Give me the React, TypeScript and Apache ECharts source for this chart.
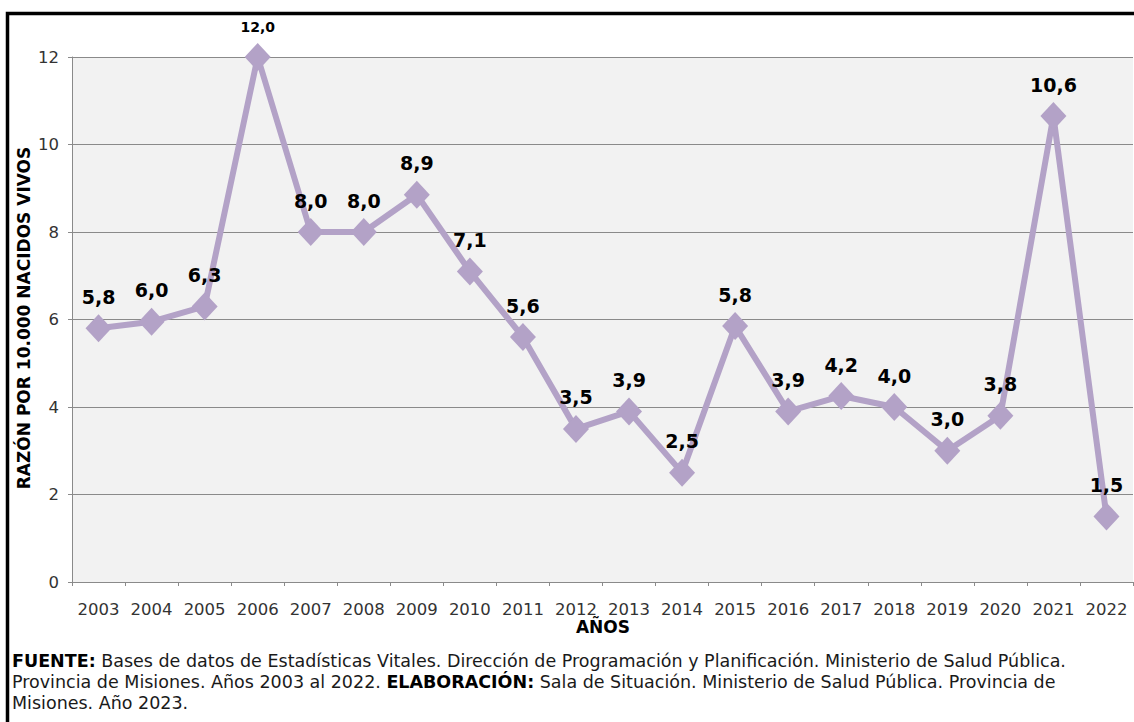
import React, { useEffect, useRef } from "react";
import * as echarts from "echarts";

const years = ["2003","2004","2005","2006","2007","2008","2009","2010","2011","2012","2013","2014","2015","2016","2017","2018","2019","2020","2021","2022"];
const rates = [5.8, 5.95, 6.3, 12.0, 8.0, 8.0, 8.85, 7.1, 5.6, 3.5, 3.9, 2.5, 5.85, 3.9, 4.25, 4.0, 3.0, 3.8, 10.65, 1.5];
const rateLabels = ["5,8","6,0","6,3","12,0","8,0","8,0","8,9","7,1","5,6","3,5","3,9","2,5","5,8","3,9","4,2","4,0","3,0","3,8","10,6","1,5"];
const yTitle = "RAZÓN POR 10.000 NACIDOS VIVOS";
const xTitle = "AÑOS";
const footerLines = [
  "{b|FUENTE:} Bases de datos de Estadísticas Vitales. Dirección de Programación y Planificación. Ministerio de Salud Pública.",
  "Provincia de Misiones. Años 2003 al 2022. {b|ELABORACIÓN:} Sala de Situación. Ministerio de Salud Pública. Provincia de",
  "Misiones. Año 2023.",
];

const FONT = "DejaVu Sans";

export default function App() {
  const ref = useRef<HTMLDivElement>(null);
  useEffect(() => {
    if (!ref.current) return;
    const chart = echarts.init(ref.current, undefined, { renderer: "svg" });
    const footerY = [661, 682, 703];
    chart.setOption({
      animation: false,
      backgroundColor: "#ffffff",
      grid: {
        left: 72,
        right: 1,
        top: 57,
        bottom: 140,
        show: true,
        backgroundColor: "#F2F2F2",
        borderWidth: 0,
      },
      xAxis: {
        type: "category",
        data: years,
        boundaryGap: true,
        axisLine: { show: true, lineStyle: { color: "#8a8a8a", width: 1 } },
        axisTick: { show: true, length: 4, lineStyle: { color: "#8a8a8a" } },
        axisLabel: { color: "#333333", fontSize: 16.5, fontFamily: FONT, margin: 19, interval: 0 },
        splitLine: { show: false },
      },
      yAxis: {
        type: "value",
        min: 0,
        max: 12,
        interval: 2,
        axisLine: { show: true, lineStyle: { color: "#8a8a8a", width: 1 } },
        axisTick: { show: true, length: 4, lineStyle: { color: "#8a8a8a" } },
        axisLabel: { color: "#333333", fontSize: 16.5, fontFamily: FONT, margin: 13 },
        splitLine: { show: true, lineStyle: { color: "#8a8a8a", width: 1 } },
      },
      series: [
        {
          type: "line",
          data: rates.map((v, i) =>
            i === 3
              ? { value: v, label: { fontSize: 14, distance: 9 } }
              : { value: v }
          ),
          lineStyle: { color: "#B3A2C7", width: 6 },
          itemStyle: { color: "#B3A2C7" },
          symbol: "diamond",
          symbolSize: [26, 28],
          showAllSymbol: true,
          label: {
            show: true,
            position: "top",
            distance: 8,
            color: "#000000",
            fontWeight: "bold",
            fontSize: 19,
            fontFamily: FONT,
            formatter: (p: any) => rateLabels[p.dataIndex],
          },
        },
      ],
      graphic: [
        {
          type: "rect",
          shape: { x: 7.5, y: 13.5, width: 1200, height: 800 },
          style: { fill: "none", stroke: "#000000", lineWidth: 3.5 },
          silent: true,
        },
        {
          type: "text",
          x: 24,
          y: 318,
          rotation: Math.PI / 2,
          style: {
            text: yTitle,
            fontFamily: FONT,
            fontWeight: "bold",
            fontSize: 17,
            fill: "#000000",
            align: "center",
            verticalAlign: "middle",
          },
        },
        {
          type: "text",
          x: 603,
          y: 627,
          style: {
            text: xTitle,
            fontFamily: FONT,
            fontWeight: "bold",
            fontSize: 17,
            fill: "#000000",
            align: "center",
            verticalAlign: "middle",
          },
        },
        ...footerLines.map((t, i) => ({
          type: "text",
          x: 12,
          y: footerY[i],
          style: {
            text: t,
            fontFamily: FONT,
            fontSize: 17.5,
            fill: "#1a1a1a",
            align: "left",
            verticalAlign: "middle",
            rich: {
              b: { fontFamily: FONT, fontSize: 17.5, fontWeight: "bold", fill: "#000000" },
            },
          },
        })),
      ],
    });
    return () => chart.dispose();
  }, []);
  return (
    <div
      ref={ref}
      style={{ position: "fixed", left: 0, top: 0, width: 1134, height: 722 }}
    />
  );
}
